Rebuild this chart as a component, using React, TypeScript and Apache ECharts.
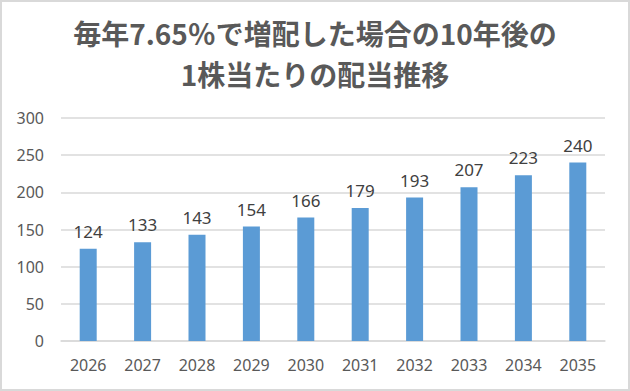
import React, { useEffect, useRef } from "react";
import * as echarts from "echarts";

const titleLines = ["毎年7.65％で増配した場合の10年後の", "1株当たりの配当推移"];
const years = ["2026", "2027", "2028", "2029", "2030", "2031", "2032", "2033", "2034", "2035"];
const dividends = [124, 133, 143, 154, 166, 179, 193, 207, 223, 240];

export default function App() {
  const ref = useRef<HTMLDivElement>(null);
  useEffect(() => {
    if (!ref.current) return;
    const chart = echarts.init(ref.current, null, { renderer: "svg" });
    const font = '"Noto Sans CJK JP", "Noto Sans", sans-serif';
    const numFont = '"Noto Sans", "Open Sans", sans-serif';
    chart.setOption({
      animation: false,
      backgroundColor: "#ffffff",
      title: {
        text: titleLines.join("\n"),
        left: "center",
        top: 12,
        padding: 0,
        textStyle: {
          fontFamily: font,
          fontSize: 28,
          fontWeight: "bold",
          color: "#595959",
          lineHeight: 41,
        },
      },
      grid: { left: 61, right: 25, top: 118, bottom: 50, containLabel: false },
      xAxis: {
        type: "category",
        data: years,
        axisLine: { lineStyle: { color: "#d9d9d9", width: 1.5 } },
        axisTick: { show: false },
        axisLabel: { color: "#595959", fontSize: 16, fontFamily: numFont, margin: 16 },
      },
      yAxis: {
        type: "value",
        min: 0,
        max: 300,
        interval: 50,
        axisLine: { show: false },
        axisTick: { show: false },
        splitLine: { lineStyle: { color: "#d9d9d9", width: 1.5 } },
        axisLabel: { color: "#595959", fontSize: 16, fontFamily: numFont, margin: 17 },
      },
      series: [
        {
          type: "bar",
          data: dividends,
          barWidth: 17,
          itemStyle: { color: "#5b9bd5" },
          label: {
            show: true,
            position: "top",
            distance: 9,
            color: "#404040",
            fontSize: 17,
            fontFamily: numFont,
          },
        },
      ],
      graphic: [
        {
          type: "rect",
          shape: { x: 1, y: 1, width: 628, height: 389 },
          style: { fill: "none", stroke: "#d9d9d9", lineWidth: 2 },
          silent: true,
        },
      ],
    });
    return () => chart.dispose();
  }, []);
  return (
    <div
      ref={ref}
      style={{ position: "absolute", left: 0, top: 0, width: 630, height: 391 }}
    />
  );
}
